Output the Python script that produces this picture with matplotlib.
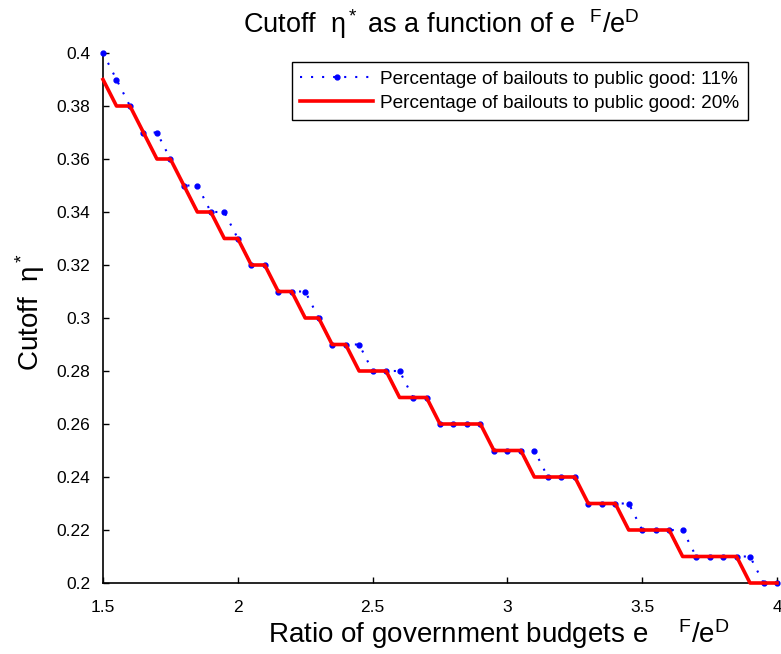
import matplotlib
matplotlib.use('Agg')
import matplotlib.pyplot as plt

# ratio of government budgets e^F / e^D
ratio = [1.50, 1.55, 1.60, 1.65, 1.70, 1.75, 1.80, 1.85, 1.90, 1.95,
         2.00, 2.05, 2.10, 2.15, 2.20, 2.25, 2.30, 2.35, 2.40, 2.45,
         2.50, 2.55, 2.60, 2.65, 2.70, 2.75, 2.80, 2.85, 2.90, 2.95,
         3.00, 3.05, 3.10, 3.15, 3.20, 3.25, 3.30, 3.35, 3.40, 3.45,
         3.50, 3.55, 3.60, 3.65, 3.70, 3.75, 3.80, 3.85, 3.90, 3.95,
         4.00]

# cutoff eta* when 11% of bailouts go to the public good
cutoff_11 = [0.40, 0.39, 0.38, 0.37, 0.37, 0.36, 0.35, 0.35, 0.34, 0.34,
             0.33, 0.32, 0.32, 0.31, 0.31, 0.31, 0.30, 0.29, 0.29, 0.29,
             0.28, 0.28, 0.28, 0.27, 0.27, 0.26, 0.26, 0.26, 0.26, 0.25,
             0.25, 0.25, 0.25, 0.24, 0.24, 0.24, 0.23, 0.23, 0.23, 0.23,
             0.22, 0.22, 0.22, 0.22, 0.21, 0.21, 0.21, 0.21, 0.21, 0.20,
             0.20]

# cutoff eta* when 20% of bailouts go to the public good
cutoff_20 = [0.39, 0.38, 0.38, 0.37, 0.36, 0.36, 0.35, 0.34, 0.34, 0.33,
             0.33, 0.32, 0.32, 0.31, 0.31, 0.30, 0.30, 0.29, 0.29, 0.28,
             0.28, 0.28, 0.27, 0.27, 0.27, 0.26, 0.26, 0.26, 0.26, 0.25,
             0.25, 0.25, 0.24, 0.24, 0.24, 0.24, 0.23, 0.23, 0.23, 0.22,
             0.22, 0.22, 0.22, 0.21, 0.21, 0.21, 0.21, 0.21, 0.20, 0.20,
             0.20]

labels = ['Percentage of bailouts to public good: 11%',
          'Percentage of bailouts to public good: 20%']

xticks = [1.5, 2, 2.5, 3, 3.5, 4]
xtick_labels = ['1.5', '2', '2.5', '3', '3.5', '4']
yticks = [0.2, 0.22, 0.24, 0.26, 0.28, 0.3, 0.32, 0.34, 0.36, 0.38, 0.4]
ytick_labels = ['0.2', '0.22', '0.24', '0.26', '0.28', '0.3',
                '0.32', '0.34', '0.36', '0.38', '0.4']

plt.rcParams['font.family'] = ['Liberation Sans', 'DejaVu Sans']
plt.rcParams['mathtext.fontset'] = 'custom'
plt.rcParams['mathtext.rm'] = 'Liberation Sans'
plt.rcParams['mathtext.it'] = 'Liberation Sans'
plt.rcParams['mathtext.bf'] = 'Liberation Sans:bold'

W, H = 781, 654
fig = plt.figure(figsize=(W / 100, H / 100), dpi=100)
ax = fig.add_axes([103 / W, 71 / H, 674 / W, 530 / H])

ax.plot(ratio, cutoff_11, color='blue', linestyle=(0, (1, 4.3)), linewidth=1.5,
        marker='.', markersize=7, label=labels[0], clip_on=False, zorder=3)
ax.plot(ratio, cutoff_20, color='red', linewidth=2.6, label=labels[1],
        clip_on=False, zorder=4)

ax.set_xlim(1.5, 4)
ax.set_ylim(0.2, 0.4)
ax.set_xticks(xticks)
ax.set_xticklabels(xtick_labels)
ax.set_yticks(yticks)
ax.set_yticklabels(ytick_labels)
ax.tick_params(direction='in', length=4, width=1, labelsize=12.5)
ax.tick_params(axis='y', pad=9)
ax.tick_params(axis='x', pad=12)

ax.spines['top'].set_visible(False)
ax.spines['right'].set_visible(False)
for s in ('left', 'bottom'):
    ax.spines[s].set_linewidth(1.2)

fig.text(441 / W, 1 - 33 / H, r'Cutoff  η$^*$ as a function of e  $^F$/e$^D$',
         ha='center', va='baseline', fontsize=19.5)

fig.text(268 / W, 1 - 643 / H, r'Ratio of government budgets e    $^F$/e$^D$',
         ha='left', va='baseline', fontsize=20)
fig.text(30 / W, 1 - 312 / H, r'Cutoff  η$^*$', rotation=90,
         ha='center', va='center', fontsize=20)

ax.legend(loc='upper right', bbox_to_anchor=(748 / W, 1 - 62 / H),
          bbox_transform=fig.transFigure, borderaxespad=0, fontsize=13.7,
          frameon=True, fancybox=False, edgecolor='black', framealpha=1,
          handlelength=3.8, handletextpad=0.4, labelspacing=0.35,
          borderpad=0.45)

fig.savefig('out.png', dpi=100)
